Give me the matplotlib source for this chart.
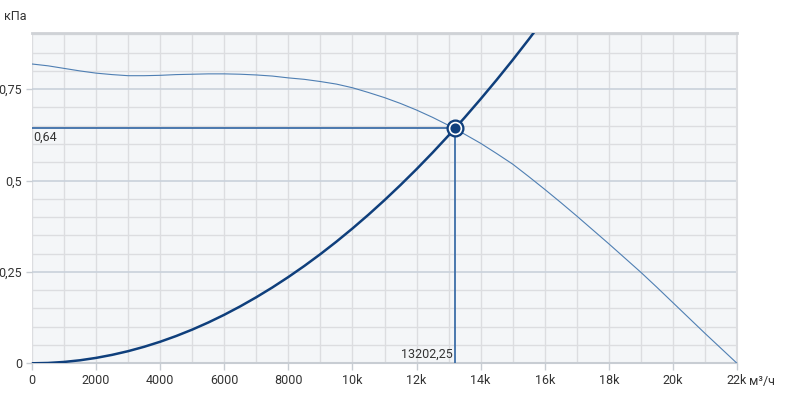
import matplotlib
matplotlib.use("Agg")
import matplotlib.pyplot as plt
from matplotlib.ticker import MultipleLocator

plt.rcParams['font.family'] = ['Roboto', 'DejaVu Sans']

# Fan pressure curve (m3/h, kPa)
fan_q = [0, 500, 1000, 1500, 2000, 2500, 3000, 3500, 4000, 4500, 5000, 5500,
         6000, 6500, 7000, 7500, 8000, 8500, 9000, 9500, 10000, 10500, 11000,
         11500, 12000, 12500, 13000, 13500, 14000, 14500, 15000, 15500, 16000,
         16500, 17000, 17500, 18000, 18500, 19000, 19500, 20000, 20500, 21000,
         21500, 22000]
fan_p = [0.819, 0.814, 0.807, 0.800, 0.794, 0.790, 0.787, 0.787, 0.788, 0.790,
         0.791, 0.792, 0.792, 0.791, 0.789, 0.786, 0.781, 0.777, 0.771, 0.764,
         0.754, 0.741, 0.727, 0.711, 0.693, 0.673, 0.651, 0.627, 0.602, 0.574,
         0.545, 0.511, 0.476, 0.440, 0.403, 0.365, 0.327, 0.288, 0.249, 0.208,
         0.166, 0.124, 0.082, 0.041, 0.0]

# System curve
sys_q = [0, 500, 1000, 1500, 2000, 2500, 3000, 3500, 4000, 4500, 5000, 5500,
         6000, 6500, 7000, 7500, 8000, 8500, 9000, 9500, 10000, 10500, 11000,
         11500, 12000, 12500, 13000, 13500, 14000, 14500, 15000, 15500, 16000]
sys_p = [0.0, 0.0009, 0.0037, 0.0083, 0.0148, 0.0231, 0.0332, 0.0452, 0.0590,
         0.0747, 0.0922, 0.1116, 0.1328, 0.1559, 0.1808, 0.2075, 0.2361, 0.2665,
         0.2988, 0.3329, 0.3689, 0.4067, 0.4464, 0.4879, 0.5312, 0.5764, 0.6235,
         0.6723, 0.7231, 0.7756, 0.8300, 0.8863, 0.9444]

op_q = 13202.25
op_p = 0.643
op_q_label = "13202,25"
op_p_label = "0,64"

x_ticks = [0, 2000, 4000, 6000, 8000, 10000, 12000, 14000, 16000, 18000, 20000, 22000]
x_labels = ["0", "2000", "4000", "6000", "8000", "10k", "12k", "14k", "16k", "18k", "20k", "22k"]
y_ticks = [0, 0.25, 0.5, 0.75]
y_labels = ["0", "0,25", "0,5", "0,75"]

W, H = 786, 396
fig = plt.figure(figsize=(W / 100, H / 100), dpi=100)
ax = fig.add_axes([32 / W, 32.7 / H, (737 - 32) / W, 330 / H])
ax.set_facecolor('#f4f6f8')
ax.set_xlim(0, 22000)
ax.set_ylim(0, 0.903)

# grids
ax.xaxis.set_minor_locator(MultipleLocator(1000))
ax.yaxis.set_minor_locator(MultipleLocator(0.05))
ax.grid(which='minor', axis='both', color='#dcdde0', lw=1.0)
ax.grid(which='major', axis='x', color='#dcdde0', lw=1.0)
ax.grid(which='major', axis='y', color='#c9d1db', lw=1.2)
ax.set_axisbelow(True)

ax.set_xticks(x_ticks)
ax.set_xticklabels(x_labels)
ax.set_yticks(y_ticks)
ax.set_yticklabels(y_labels)
ax.tick_params(axis='both', which='major', labelsize=9, colors='#333333',
               length=5, width=1, pad=3)
ax.tick_params(axis='x', which='major', color='#c8cdd3')
ax.tick_params(axis='y', which='major', color='#c8cdd3', length=4)
ax.tick_params(which='minor', length=0)

ax.spines['left'].set_visible(False)
ax.spines['bottom'].set_color('#c8cdd3')
ax.spines['bottom'].set_linewidth(1.5)
ax.spines['top'].set_color('#cfd2d6')
ax.spines['top'].set_linewidth(2)
ax.spines['right'].set_color('#dcdde0')
ax.spines['right'].set_linewidth(1.5)

# curves
ax.plot(fan_q, fan_p, color='#4f7fb3', lw=0.8, zorder=3)
ax.plot(sys_q, sys_p, color='#0f3f7c', lw=1.8, zorder=4, clip_on=True)

# operating point guide lines
ax.plot([0, op_q], [op_p, op_p], color='#3d6ea8', lw=1.3, zorder=3)
ax.plot([op_q, op_q], [0, op_p], color='#3d6ea8', lw=1.3, zorder=3)
ax.plot([op_q], [op_p], marker='o', ms=12, mfc='#0f3f7c', mec='#0f3f7c', zorder=5)
ax.plot([op_q], [op_p], marker='o', ms=8.5, mfc='#0f3f7c', mec='white', mew=1.2, zorder=6)

ax.text(40, op_p - 0.008, op_p_label, ha='left', va='top', fontsize=9, color='#333333')
ax.text(op_q - 60, 0.008, op_q_label, ha='right', va='bottom', fontsize=9, color='#333333')

fig.text(4 / W, 1 - 17 / H, "кПа", ha='left', va='center', fontsize=9, color='#333333')
fig.text(749 / W, 1 - 382 / H, "м³/ч", ha='left', va='center', fontsize=9, color='#333333')

fig.savefig('out.png', dpi=100)
